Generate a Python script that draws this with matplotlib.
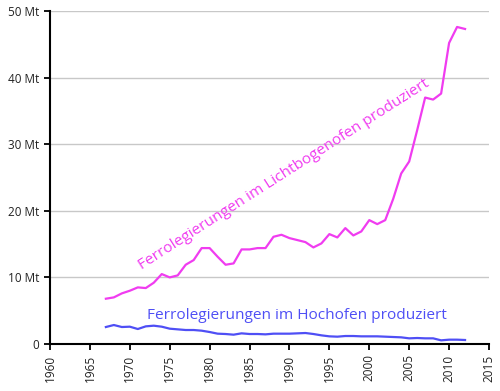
import matplotlib
matplotlib.use('Agg')
import matplotlib.pyplot as plt

plt.rcParams['font.family'] = ['Open Sans', 'DejaVu Sans']

years = list(range(1967, 2013))

# Mt, electric arc furnace
lichtbogen = [6.8, 7.0, 7.6, 8.0, 8.5, 8.4, 9.2, 10.5, 10.0, 10.3,
              11.9, 12.6, 14.4, 14.4, 13.1, 11.9, 12.1, 14.2, 14.2, 14.4,
              14.4, 16.1, 16.4, 15.9, 15.6, 15.3, 14.5, 15.1, 16.5, 16.0,
              17.4, 16.3, 16.9, 18.6, 18.0, 18.6, 21.8, 25.6, 27.4, 32.1,
              37.0, 36.7, 37.6, 45.2, 47.6, 47.3]

# Mt, blast furnace
hochofen = [2.55, 2.85, 2.55, 2.6, 2.25, 2.65, 2.75, 2.6, 2.3, 2.2,
            2.1, 2.1, 2.0, 1.8, 1.55, 1.5, 1.4, 1.6, 1.5, 1.5,
            1.45, 1.55, 1.55, 1.55, 1.6, 1.65, 1.5, 1.3, 1.15, 1.1,
            1.2, 1.2, 1.15, 1.15, 1.15, 1.1, 1.05, 1.0, 0.85, 0.9,
            0.85, 0.85, 0.55, 0.65, 0.65, 0.6]

yticks = [0, 10, 20, 30, 40, 50]
ylabels = ['0', '10 Mt', '20 Mt', '30 Mt', '40 Mt', '50 Mt']
xticks = list(range(1960, 2016, 5))

fig = plt.figure(figsize=(5, 3.91), dpi=100)
ax = fig.add_axes([0.1, 0.1202, 0.878, 0.8517])

ax.plot(years, lichtbogen, color='#f03cf0', lw=1.6)
ax.plot(years, hochofen, color='#4f4ff5', lw=1.6)

ax.text(1989.3, 25.5, 'Ferrolegierungen im Lichtbogenofen produziert',
        color='#f03cf0', fontsize=11.1, rotation=32.6, rotation_mode='anchor',
        ha='center', va='center')
ax.text(1990.95, 4.35, 'Ferrolegierungen im Hochofen produziert',
        color='#4f4ff5', fontsize=11.1, ha='center', va='center')

ax.set_xlim(1960, 2015)
ax.set_ylim(0, 50)
ax.set_xticks(xticks)
ax.set_xticklabels([str(x) for x in xticks], rotation=90)
ax.set_yticks(yticks)
ax.set_yticklabels(ylabels)
ax.tick_params(labelsize=8.5, labelcolor='#222222', length=4, width=1.3)

ax.grid(axis='y', color='#c8c8c8', lw=1)
ax.set_axisbelow(True)
for s in ['top', 'right']:
    ax.spines[s].set_visible(False)
ax.spines['left'].set_linewidth(1.5)
ax.spines['bottom'].set_linewidth(1.5)

fig.savefig('out.png', dpi=100)
